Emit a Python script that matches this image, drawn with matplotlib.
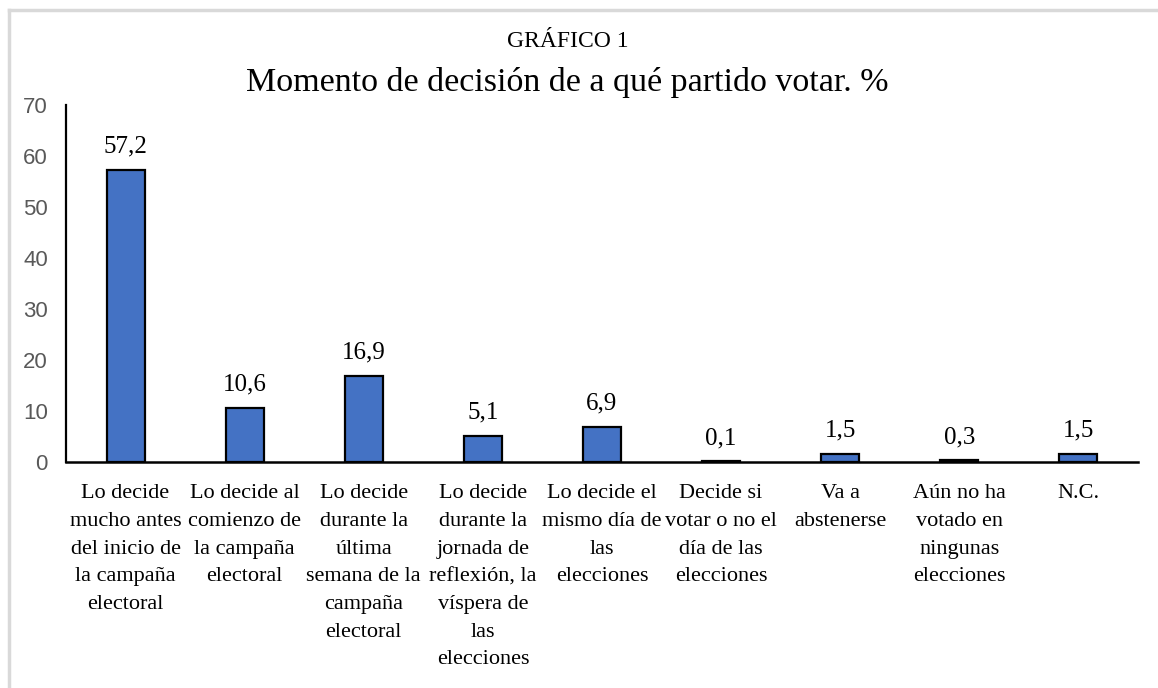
import matplotlib
matplotlib.use("Agg")
import matplotlib.pyplot as plt
from matplotlib.lines import Line2D

# data
categorias = [
    "Lo decide\nmucho antes\ndel inicio de\nla campaña\nelectoral",
    "Lo decide al\ncomienzo de\nla campaña\nelectoral",
    "Lo decide\ndurante la\núltima\nsemana de la\ncampaña\nelectoral",
    "Lo decide\ndurante la\njornada de\nreflexión, la\nvíspera de\nlas\nelecciones",
    "Lo decide el\nmismo día de\nlas\nelecciones",
    "Decide si\nvotar o no el\ndía de las\nelecciones",
    "Va a\nabstenerse",
    "Aún no ha\nvotado en\nningunas\nelecciones",
    "N.C.",
]
valores = [57.2, 10.6, 16.9, 5.1, 6.9, 0.1, 1.5, 0.3, 1.5]
yticks = [0, 10, 20, 30, 40, 50, 60, 70]

serif = "Liberation Serif"

fig = plt.figure(figsize=(11.58, 6.88), dpi=100)
ax = fig.add_axes([0.057, 0.3285, 0.9257, 0.519])

x = range(len(valores))
ax.bar(x, valores, width=0.32, color="#4472C4", edgecolor="black", linewidth=1.6, zorder=3)

for xi, v in zip(x, valores):
    ax.annotate(f"{v:.1f}".replace(".", ","), (xi, v), xytext=(0, 9),
                textcoords="offset points", ha="center", va="bottom",
                fontsize=18, family=serif)

ax.set_xlim(-0.5, len(valores) - 0.5)
ax.set_ylim(0, 70)
ax.set_yticks(yticks)
ax.set_yticklabels([str(t) for t in yticks], fontsize=16, color="#595959",
                   family="Liberation Sans")
ax.set_xticks(list(x))
ax.set_xticklabels(categorias, fontsize=16, family=serif, linespacing=1.62)
ax.tick_params(axis="both", length=0)
ax.tick_params(axis="x", pad=16)
ax.tick_params(axis="y", pad=13)

for s in ["top", "right"]:
    ax.spines[s].set_visible(False)
ax.spines["left"].set_linewidth(1.6)
ax.spines["bottom"].set_linewidth(1.8)

fig.text(0.49, 0.940, "GRÁFICO 1", ha="center", va="center", fontsize=17, family=serif)
fig.text(0.49, 0.880, "Momento de decisión de a qué partido votar. %", ha="center",
         va="center", fontsize=24.5, family=serif)

# marco gris del gráfico
fig.add_artist(Line2D([9 / 1158, 1], [1 - 10 / 688, 1 - 10 / 688], color="#D9D9D9", lw=2.5))
fig.add_artist(Line2D([9 / 1158, 9 / 1158], [0, 1 - 10 / 688], color="#D9D9D9", lw=2.5))

fig.savefig("out.png", dpi=100)
